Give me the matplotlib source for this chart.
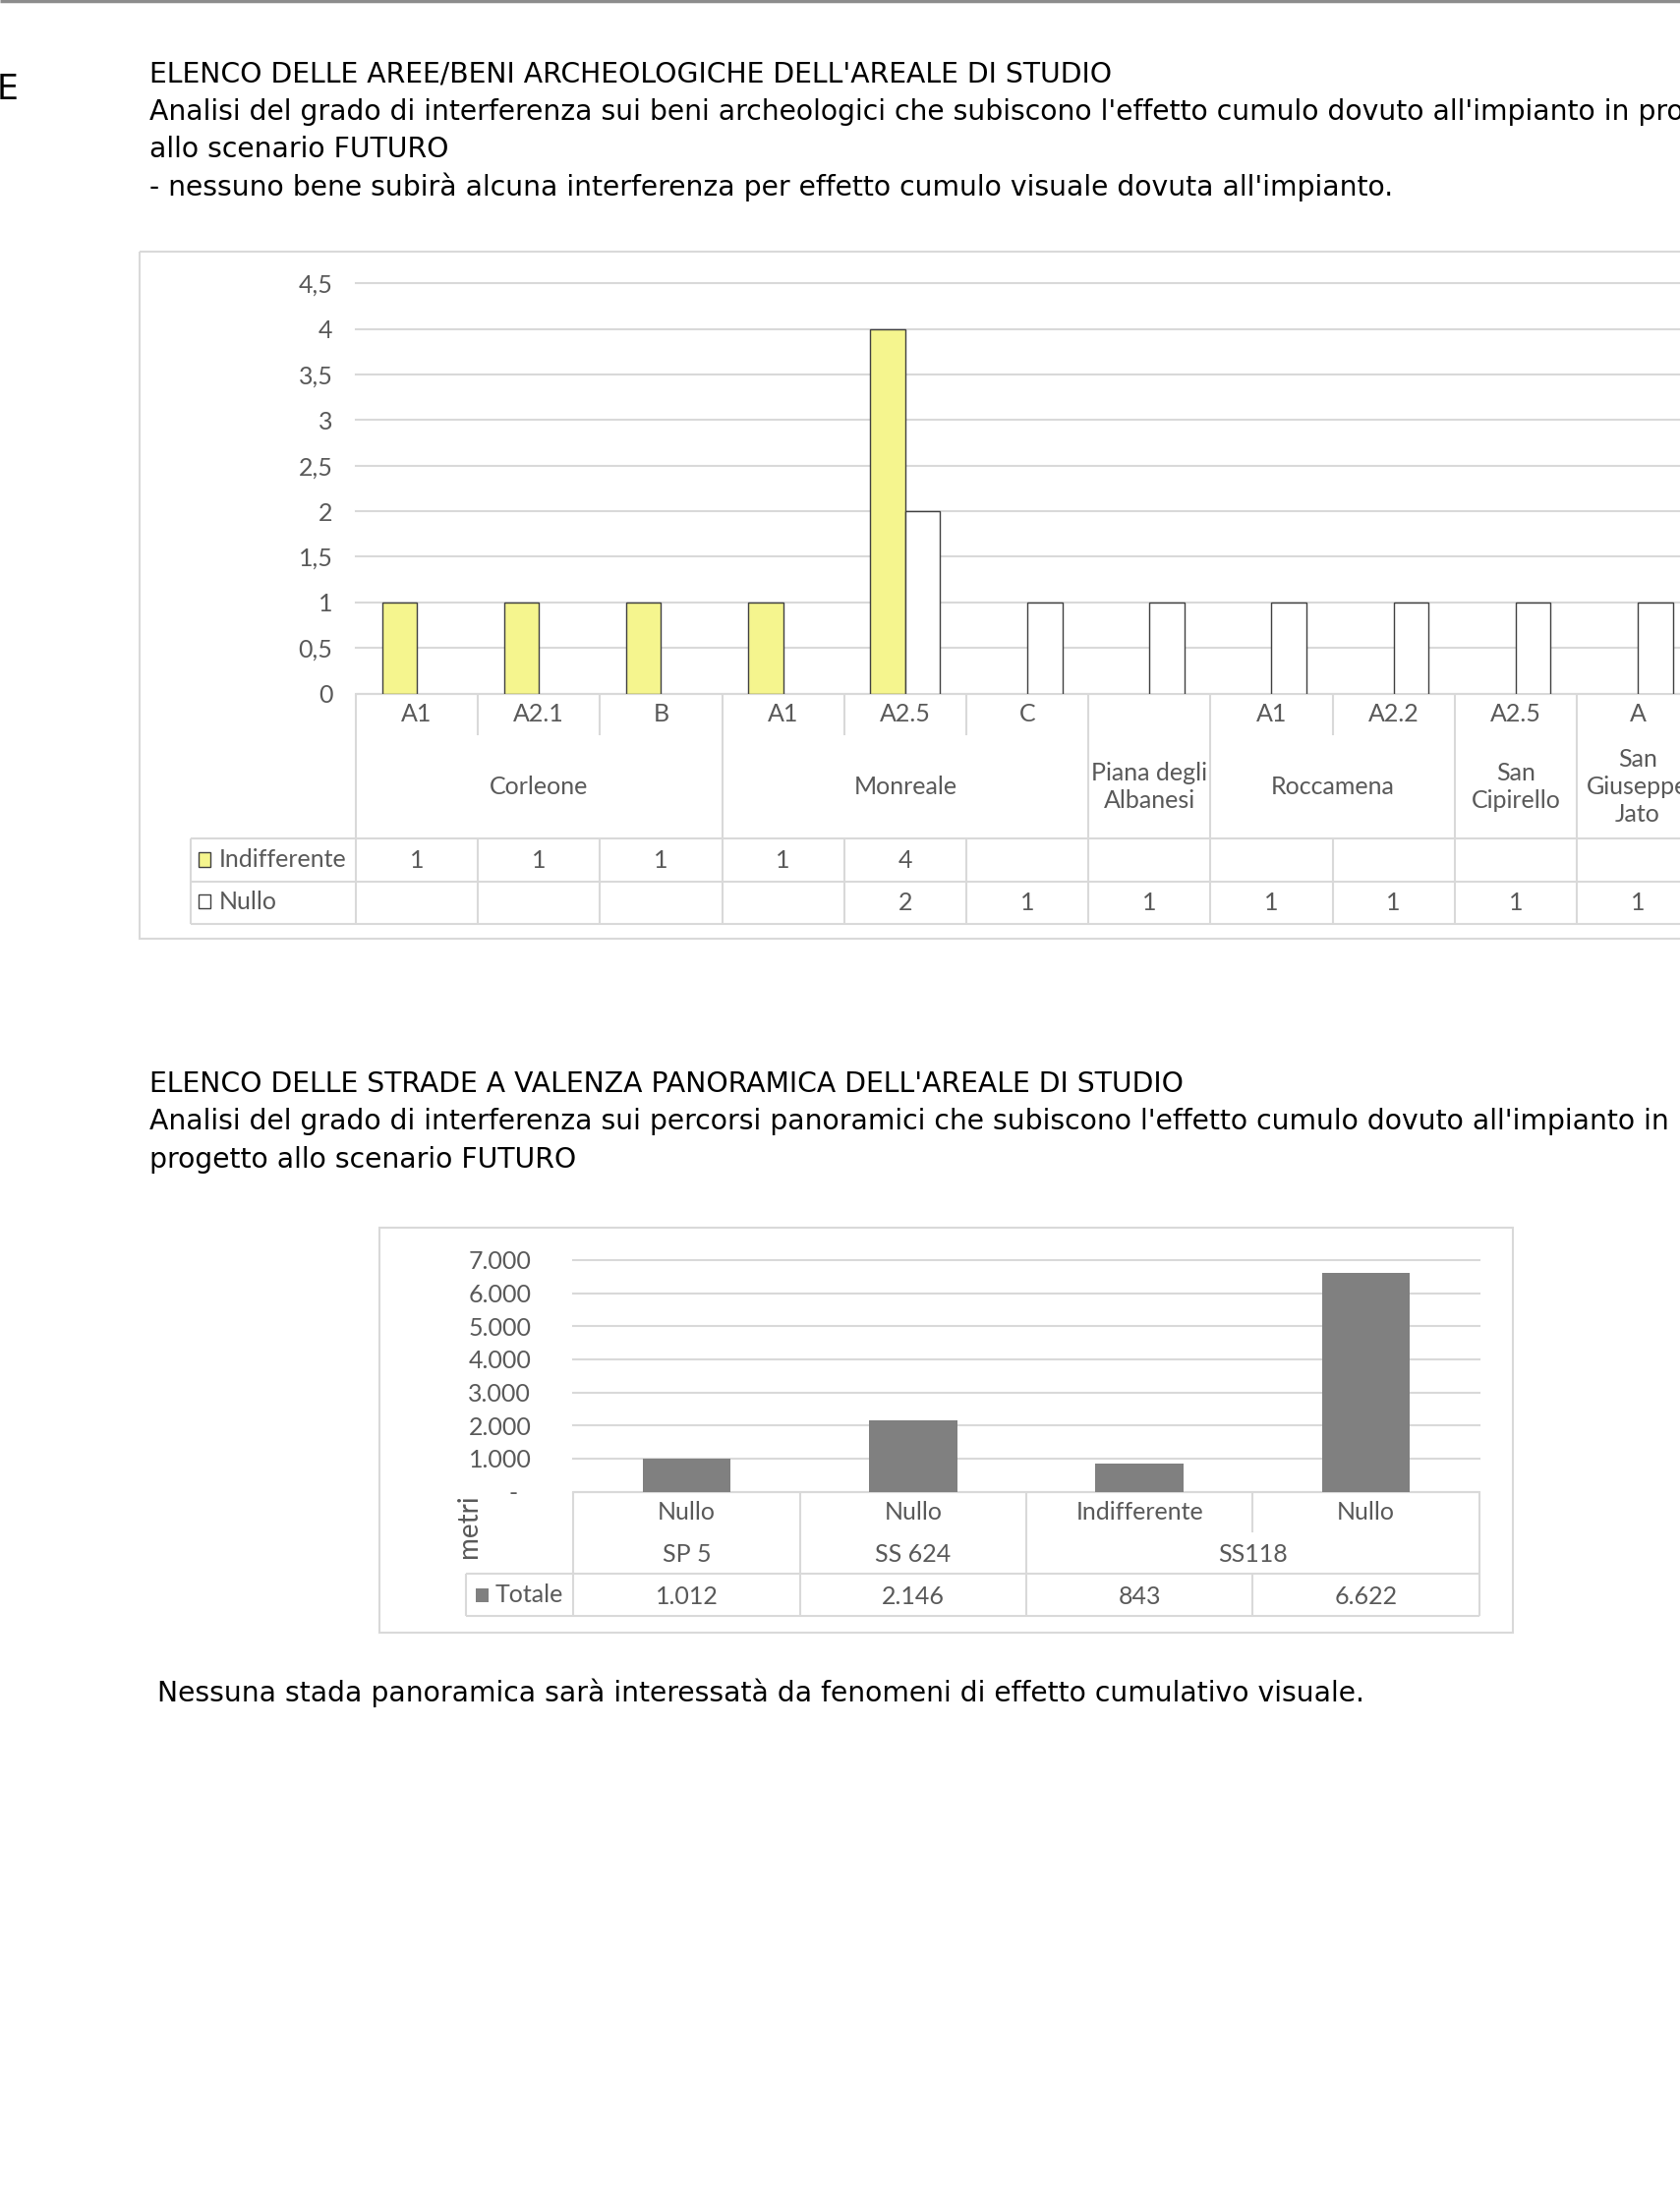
import numpy as np
import matplotlib
matplotlib.use("Agg")
import matplotlib.pyplot as plt
from matplotlib.patches import Rectangle
from matplotlib.ticker import FuncFormatter

# --- dati grafico 1 (beni archeologici) ---
sottocategorie = ["A1", "A2.1", "B", "A1", "A2.5", "C", "", "A1", "A2.2", "A2.5", "A"]
comuni = ["Corleone", "Monreale", "Piana degli\nAlbanesi", "Roccamena",
          "San\nCipirello", "San\nGiuseppe\nJato"]
comuni_span = [3, 3, 1, 2, 1, 1]
indifferente = [1, 1, 1, 1, 4, None, None, None, None, None, None]
nullo = [None, None, None, None, 2, 1, 1, 1, 1, 1, 1]

# --- dati grafico 2 (strade panoramiche) ---
gradi = ["Nullo", "Nullo", "Indifferente", "Nullo"]
strade = ["SP 5", "SS 624", "SS118"]
strade_span = [1, 1, 2]
totale = [1012, 2146, 843, 6622]

# colori
GIALLO = "#f5f58e"
GRIGIO_BAR = "#808080"
GRIGLIA = "#d9d9d9"
TESTO = "#595959"
BORDO = "#404040"

FONT_TITOLI = "DejaVu Sans"
FONT_GRAF = "Lato"
SZ_TIT = 20.3
SZ_GRAF = 18

# la pagina viene disegnata in unita' "di riferimento" 1204 x 1568
W, H = 1204, 1568


def rect(x0, y0, x1, y1):
    return [x0 / W, 1 - y1 / H, (x1 - x0) / W, (y1 - y0) / H]


fig = plt.figure(figsize=(17.09, 22.26), dpi=100)
bg = fig.add_axes([0, 0, 1, 1])
bg.set_xlim(0, W)
bg.set_ylim(H, 0)
bg.axis("off")


def linea(x0, y0, x1, y1, col=GRIGLIA, lw=1.5):
    bg.plot([x0, x1], [y0, y1], color=col, lw=lw, solid_capstyle="butt")


def testo(x, y, s, size=SZ_GRAF, **kw):
    kw.setdefault("ha", "center")
    kw.setdefault("va", "center")
    kw.setdefault("color", TESTO)
    kw.setdefault("family", FONT_GRAF)
    bg.text(x, y, s, fontsize=size, **kw)


# bordo superiore della pagina e lettera a sinistra
linea(0, 0.8, W, 0.8, col="#8c8c8c", lw=2.5)
bg.text(-2.5, 64, "E", fontsize=25, family=FONT_TITOLI, va="center", ha="left")

# testi introduttivi
righe1 = [
    "ELENCO DELLE AREE/BENI ARCHEOLOGICHE DELL'AREALE DI STUDIO",
    "Analisi del grado di interferenza sui beni archeologici che subiscono l'effetto cumulo dovuto all'impianto in progetto",
    "allo scenario FUTURO",
    "- nessuno bene subirà alcuna interferenza per effetto cumulo visuale dovuta all'impianto.",
]
for i, r in enumerate(righe1):
    bg.text(107, 53 + 27 * i, r, fontsize=SZ_TIT, family=FONT_TITOLI, va="center", ha="left")

righe2 = [
    "ELENCO DELLE STRADE A VALENZA PANORAMICA DELL'AREALE DI STUDIO",
    "Analisi del grado di interferenza sui percorsi panoramici che subiscono l'effetto cumulo dovuto all'impianto in",
    "progetto allo scenario FUTURO",
]
for i, r in enumerate(righe2):
    bg.text(107, 777 + 27 * i, r, fontsize=SZ_TIT, family=FONT_TITOLI, va="center", ha="left")

bg.text(113, 1213, "Nessuna stada panoramica sarà interessatà da fenomeni di effetto cumulativo visuale.",
        fontsize=SZ_TIT, family=FONT_TITOLI, va="center", ha="left")

# ================= GRAFICO 1 =================
bg.add_patch(Rectangle((100, 180), W, 673 - 180, fill=False, ec=GRIGLIA, lw=1.5))

n1 = len(sottocategorie)
x0_1, cw1 = 255, 87.5
ax1 = fig.add_axes(rect(x0_1, 203, x0_1 + cw1 * n1, 497))
x = np.arange(n1)
w = 0.286
i_ind = [i for i, v in enumerate(indifferente) if v]
i_nul = [i for i, v in enumerate(nullo) if v]
ax1.bar(x[i_ind] - w / 2, [indifferente[i] for i in i_ind], w, color=GIALLO, ec=BORDO, lw=1.0, zorder=3)
ax1.bar(x[i_nul] + w / 2, [nullo[i] for i in i_nul], w, color="white", ec=BORDO, lw=1.0, zorder=3)
ax1.set_xlim(-0.5, n1 - 0.5)
ax1.set_ylim(0, 4.5)
ax1.set_yticks(np.arange(0, 4.51, 0.5))
ax1.yaxis.set_major_formatter(FuncFormatter(lambda v, _: f"{v:g}".replace(".", ",")))
ax1.set_xticks([])
ax1.grid(axis="y", color=GRIGLIA, lw=1.5, clip_on=False)
ax1.set_axisbelow(True)
for s in ax1.spines.values():
    s.set_visible(False)
ax1.tick_params(axis="y", length=0, pad=17, labelsize=SZ_GRAF, labelcolor=TESTO)
for t in ax1.get_yticklabels():
    t.set_family(FONT_GRAF)
ax1.patch.set_alpha(0)

# tabella sotto il grafico 1
bordi_gruppo = np.concatenate([[0], np.cumsum(comuni_span)])
xs = x0_1 + cw1 * np.arange(n1 + 1)
right1 = W + 20
linea(x0_1, 497, right1, 497)
for y in (601, 632, 662):
    linea(137, y, right1, y)
linea(137, 601, 137, 662)
for k, xk in enumerate(xs):
    if k in bordi_gruppo:
        linea(xk, 497, xk, 662)
    else:
        linea(xk, 497, xk, 527)
        linea(xk, 601, xk, 662)

for i, s in enumerate(sottocategorie):
    testo(xs[i] + cw1 / 2, 512, s)
for g, nome in enumerate(comuni):
    xc = (xs[bordi_gruppo[g]] + xs[bordi_gruppo[g + 1]]) / 2
    testo(xc, 564, nome, linespacing=1.25)
for i in range(n1):
    if indifferente[i]:
        testo(xs[i] + cw1 / 2, 617, str(indifferente[i]))
    if nullo[i]:
        testo(xs[i] + cw1 / 2, 647, str(nullo[i]))

bg.add_patch(Rectangle((142, 611), 9, 10, fc=GIALLO, ec=BORDO, lw=1.0))
bg.add_patch(Rectangle((142, 641), 9, 10, fc="white", ec=BORDO, lw=1.0))
testo(157, 616, "Indifferente", ha="left")
testo(157, 646, "Nullo", ha="left")

# ================= GRAFICO 2 =================
bg.add_patch(Rectangle((272, 880), 1084 - 272, 1170 - 880, fill=False, ec=GRIGLIA, lw=1.5))

n2 = len(totale)
x0_2, cw2 = 411, (1060 - 411) / n2
ax2 = fig.add_axes(rect(x0_2, 903, x0_2 + cw2 * n2, 1069))
x2 = np.arange(n2)
ax2.bar(x2, totale, 0.39, color=GRIGIO_BAR, zorder=3)
ax2.set_xlim(-0.5, n2 - 0.5)
ax2.set_ylim(0, 7000)
ax2.set_yticks(np.arange(0, 7001, 1000))
ax2.yaxis.set_major_formatter(FuncFormatter(
    lambda v, _: "-  " if v == 0 else f"{int(v):,}".replace(",", ".")))
ax2.set_xticks([])
ax2.grid(axis="y", color=GRIGLIA, lw=1.5, clip_on=False)
ax2.set_axisbelow(True)
for s in ax2.spines.values():
    s.set_visible(False)
ax2.tick_params(axis="y", length=0, pad=31, labelsize=SZ_GRAF, labelcolor=TESTO)
for t in ax2.get_yticklabels():
    t.set_family(FONT_GRAF)
ax2.patch.set_alpha(0)

xs2 = x0_2 + cw2 * np.arange(n2 + 1)
bordi_strade = np.concatenate([[0], np.cumsum(strade_span)])
linea(x0_2, 1069, xs2[-1], 1069)
linea(334, 1128, xs2[-1], 1128)
linea(334, 1158, xs2[-1], 1158)
linea(334, 1128, 334, 1158)
for k, xk in enumerate(xs2):
    if k in bordi_strade:
        linea(xk, 1069, xk, 1158)
    else:
        linea(xk, 1069, xk, 1098)
        linea(xk, 1128, xk, 1158)

for i, g in enumerate(gradi):
    testo(xs2[i] + cw2 / 2, 1084, g)
for j, s in enumerate(strade):
    xc = (xs2[bordi_strade[j]] + xs2[bordi_strade[j + 1]]) / 2
    testo(xc, 1114, s)
for i, v in enumerate(totale):
    testo(xs2[i] + cw2 / 2, 1144, f"{v:,}".replace(",", "."))

bg.add_patch(Rectangle((341, 1138), 9, 10, fc=GRIGIO_BAR, ec="none"))
testo(355, 1143, "Totale", ha="left")
testo(336, 1094, "metri", size=20, rotation=90)

fig.savefig("out.png", dpi=100, facecolor="white")
